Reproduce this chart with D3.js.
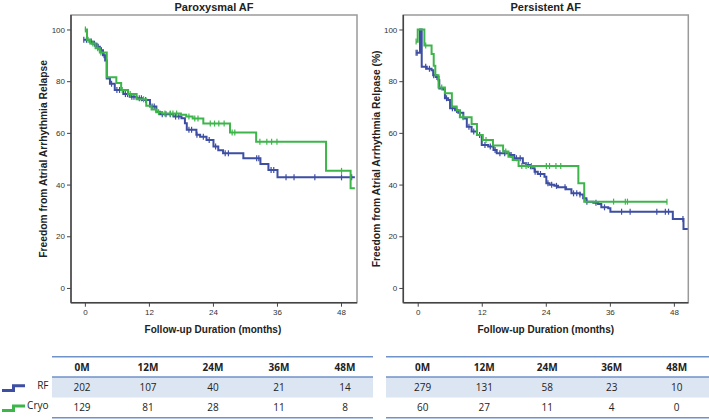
<!DOCTYPE html>
<html><head><meta charset="utf-8">
<script src="https://cdn.jsdelivr.net/npm/d3@7"></script>
<style>
html,body{margin:0;padding:0;background:#fff;}
svg{display:block;}
</style>
</head><body>
<svg id="chart" width="709" height="420"></svg>
<script>
// ---------------- DATA ----------------
const xTicks = [0, 12, 24, 36, 48];
const yTicks = [0, 20, 40, 60, 80, 100];
const tableHeaders = ["0M", "12M", "24M", "36M", "48M"];
const groups = ["RF", "Cryo"];

// Paroxysmal AF (step points: [month, % free])
const parRF = [[-0.2,96],[0.9,95.3],[1.5,94.5],[2.2,93.3],[2.8,92],[3.4,90],[3.8,88],[4.1,81],[4.7,79],[5.6,76.6],[7.2,75],[8.4,74],[9.7,73.4],[10.9,72.7],[12.2,70.2],[13.4,68.2],[14.1,67.2],[16.6,66.3],[18.1,65.7],[18.75,63.7],[19.1,61.2],[20.9,59.3],[21.6,58.5],[22.8,57.2],[24.1,54.7],[25,53.3],[25.9,52.1],[29.7,50.2],[32.9,48],[34.4,45.6],[36.1,42.8],[50.6,42.8]];
const parCryo = [[0,100],[0.4,96],[1,94.6],[2,92.7],[2.8,91.1],[4.1,81.5],[5.9,79.3],[6.8,76.6],[8.1,75],[9.7,73],[11.5,70.5],[12.5,69],[13.4,68],[14.5,67.5],[18,67],[19,66.3],[20.2,65.6],[22.2,63.6],[27.2,60.1],[32.1,56.6],[45.2,45.3],[49.8,38.6],[50.6,38.6]];
const parRFCensor = [-0.2,0.3,1.2,1.8,2.5,3.1,3.6,5,6,6.5,7.6,8,8.8,9.2,10.2,10.6,11.4,12.6,13,14.5,15.2,16,17,17.6,19.5,20,21,22.2,23.3,24.5,26.3,26.9,32.2,32.6,34.9,35.4,37.7,39.2,43.1,48.1,50];
const parCryoCensor = [0.1,0.6,1.5,2.4,3,7,8.5,11,13.8,15,16,16.5,17.2,19.5,20.6,21.2,23.5,24.3,25.1,26.1,27.6,28.1,32.8,34.1,35,36,48.1];

// Persistent AF
const perRF = [[-0.3,91],[0.43,100],[0.75,85.6],[1.7,84.8],[2.6,84.2],[2.9,82.3],[3.4,81.6],[3.9,80.4],[4.05,77.2],[4.8,76.8],[5.1,73.4],[5.7,72.7],[6.06,69.5],[7,68.8],[7.6,67.8],[8.55,65.6],[9.2,62.4],[10.1,60.5],[11.1,59.2],[12,55.3],[13.2,54.7],[14.2,53.4],[14.8,52.1],[17.2,51.4],[18.1,50.2],[19.7,48.2],[20.3,47.6],[21.2,46.3],[21.9,45],[22.5,44.1],[23.75,43],[24.1,40.5],[24.7,39.9],[25.6,39.5],[26.3,39],[27.8,38.2],[28.8,36.6],[30.4,36.2],[31,34.7],[31.6,33.4],[32.9,33],[33.8,32.5],[34.4,31.2],[35.7,30.8],[36.1,29.5],[47.8,26.7],[49.8,22.8],[50.6,22.8]];
const perCryo = [[-0.3,95.3],[0,100],[1.25,93.8],[2.6,90.5],[3.0,86],[3.3,82.3],[3.9,77.6],[5.1,75.3],[6.4,70.2],[7.3,68.8],[7.9,66],[10.1,63.4],[11.1,59.2],[12.2,57.2],[14.1,55.1],[16,52.8],[17,50.8],[17.8,49.5],[18.9,47.2],[30.1,40.5],[31.2,33.4],[46.7,33.4]];
const perRFCensor = [-0.3,-0.1,1.5,2.2,3,3.6,5.4,6.5,7.3,8,9.6,10.5,11.6,12.6,13.6,14.5,15.4,16.3,17.5,18.5,19.2,20.7,22,23,24.4,25.1,26,27.6,29.2,29.8,30.4,31.7,33.4,35,38.2,39.8,44.8,46.4,47,49.7];
const perCryoCensor = [-0.3,1.5,4.5,8.5,12.8,16.5,19.5,20.3,21.3,24.1,24.7,25.9,26.8,36.7,38.9,39.3,46.7];

// Numbers at risk
const parRFRisk = [202, 107, 40, 21, 14];
const parCryoRisk = [129, 81, 28, 11, 8];
const perRFRisk = [279, 131, 58, 23, 10];
const perCryoRisk = [60, 27, 11, 4, 0];

// ---------------- STYLE / LAYOUT ----------------
const BLUE = "#3d4ea3", GREEN = "#3db54a";
const svg = d3.select("#chart");
const FONT = "'Liberation Sans', Arial, sans-serif";
const TFONT = "'Open Sans', 'Liberation Sans', sans-serif";

const panels = [
  {title:"Paroxysmal AF", ytitle:"Freedom from Atrial Arrhythmia Relapse",
   x0:71, x1:357, y0:15, y1:302.7, xdom:[-2.6,51], ytx:46.5,
   rf:parRF, cryo:parCryo, rfC:parRFCensor, cryoC:parCryoCensor,
   tbl:{x0:52, x1:373, cols:[82,148,213,279,345]}, rfRisk:parRFRisk, cryoRisk:parCryoRisk},
  {title:"Persistent AF", ytitle:"Freedom from Atrial Arrhythmia Relpase (%)",
   x0:403.3, x1:688.3, y0:15, y1:302.7, xdom:[-2.7,50.7], ytx:379.5,
   rf:perRF, cryo:perCryo, rfC:perRFCensor, cryoC:perCryoCensor,
   tbl:{x0:386, x1:709, cols:[422.7,484.3,547.3,611.7,676.7]}, rfRisk:perRFRisk, cryoRisk:perCryoRisk}
];

function stepVal(series, t){
  let v = series[0][1];
  for (const p of series){ if (p[0] <= t) v = p[1]; else break; }
  return v;
}

panels.forEach(p => {
  const x = d3.scaleLinear().domain(p.xdom).range([p.x0, p.x1]);
  const y = d3.scaleLinear().domain([-5.7,105.6]).range([p.y1, p.y0]);
  const g = svg.append("g");

  // frame
  g.append("rect").attr("x",p.x0).attr("y",p.y0).attr("width",p.x1-p.x0).attr("height",p.y1-p.y0)
    .attr("fill","none").attr("stroke","#9a9a9a").attr("stroke-width",1.5);

  // axes
  const ya = d3.axisLeft(y).tickValues(yTicks).tickSize(4).tickPadding(2);
  const yg = g.append("g").attr("transform",`translate(${p.x0},0)`).call(ya);
  const xa = d3.axisBottom(x).tickValues(xTicks).tickSize(4).tickPadding(3);
  const xg = g.append("g").attr("transform",`translate(0,${p.y1})`).call(xa);
  [yg,xg].forEach(a=>{
    a.select(".domain").attr("stroke","#444").attr("stroke-width",1.5);
    a.selectAll(".tick line").attr("stroke","#444");
    a.selectAll(".tick text").attr("font-family",FONT).attr("font-size",8).attr("fill","#333");
  });
  xg.select(".domain").attr("d",`M${p.x0},0H${p.x1}`);
  yg.select(".domain").attr("d",`M0,${p.y0}V${p.y1}`);

  // curves
  const line = d3.line().x(d=>x(d[0])).y(d=>y(d[1])).curve(d3.curveStepAfter);
  [[p.rf,BLUE,p.rfC],[p.cryo,GREEN,p.cryoC]].forEach(([s,c,cens])=>{
    g.append("path").datum(s).attr("d",line).attr("fill","none").attr("stroke",c).attr("stroke-width",2);
    g.selectAll(null).data(cens).enter().append("line")
      .attr("x1",d=>x(d)).attr("x2",d=>x(d))
      .attr("y1",d=>y(stepVal(s,d))-3).attr("y2",d=>y(stepVal(s,d))+3)
      .attr("stroke",c).attr("stroke-width",1.2);
  });

  // titles
  const cx = (p.x0+p.x1)/2;
  g.append("text").attr("x",cx).attr("y",11).attr("text-anchor","middle")
    .attr("font-family",FONT).attr("font-weight","bold").attr("font-size",11).attr("fill","#222").text(p.title);
  g.append("text").attr("x",x(24)).attr("y",332.5).attr("text-anchor","middle")
    .attr("font-family",FONT).attr("font-weight","bold").attr("font-size",10).attr("fill","#222").text("Follow-up Duration (months)");
  g.append("text").attr("transform",`translate(${p.ytx},${(p.y0+p.y1)/2}) rotate(-90)`).attr("text-anchor","middle")
    .attr("font-family",FONT).attr("font-weight","bold").attr("font-size",10.3).attr("fill","#222").text(p.ytitle);

  // table
  const t = p.tbl;
  g.append("rect").attr("x",t.x0).attr("y",377).attr("width",t.x1-t.x0).attr("height",20.5).attr("fill","#dce6f2");
  [356.7,377,417.7].forEach(yy=>{
    g.append("line").attr("x1",t.x0).attr("x2",t.x1).attr("y1",yy).attr("y2",yy).attr("stroke","#6f92c8").attr("stroke-width",1.5);
  });
  const tx = d3.scaleOrdinal().domain(tableHeaders).range(t.cols);
  g.selectAll(null).data(tableHeaders).enter().append("text")
    .attr("x",d=>tx(d)).attr("y",371).attr("text-anchor","middle")
    .attr("font-family",TFONT).attr("font-weight","bold").attr("font-size",10).attr("fill","#222").text(d=>d);
  [[p.rfRisk,391],[p.cryoRisk,411]].forEach(([arr,yy])=>{
    g.selectAll(null).data(arr).enter().append("text")
      .attr("x",(d,i)=>tx(tableHeaders[i])).attr("y",yy).attr("text-anchor","middle")
      .attr("font-family",TFONT).attr("font-size",10).attr("fill","#222").text(d=>d);
  });
});

// legend (row labels)
const leg = svg.append("g");
[[groups[0],BLUE,390.5,385.8,390.5],[groups[1],GREEN,410.5,406,410]].forEach(([lab,c,lo,hi,ty])=>{
  leg.append("path").attr("d",`M2,${lo}H13.5V${hi}H25`).attr("fill","none").attr("stroke",c).attr("stroke-width",3);
  leg.append("text").attr("x",48.5).attr("y",ty-1.5).attr("text-anchor","end")
    .attr("font-family",TFONT).attr("font-size",10).attr("fill","#222").text(lab);
});
</script>
</body></html>
